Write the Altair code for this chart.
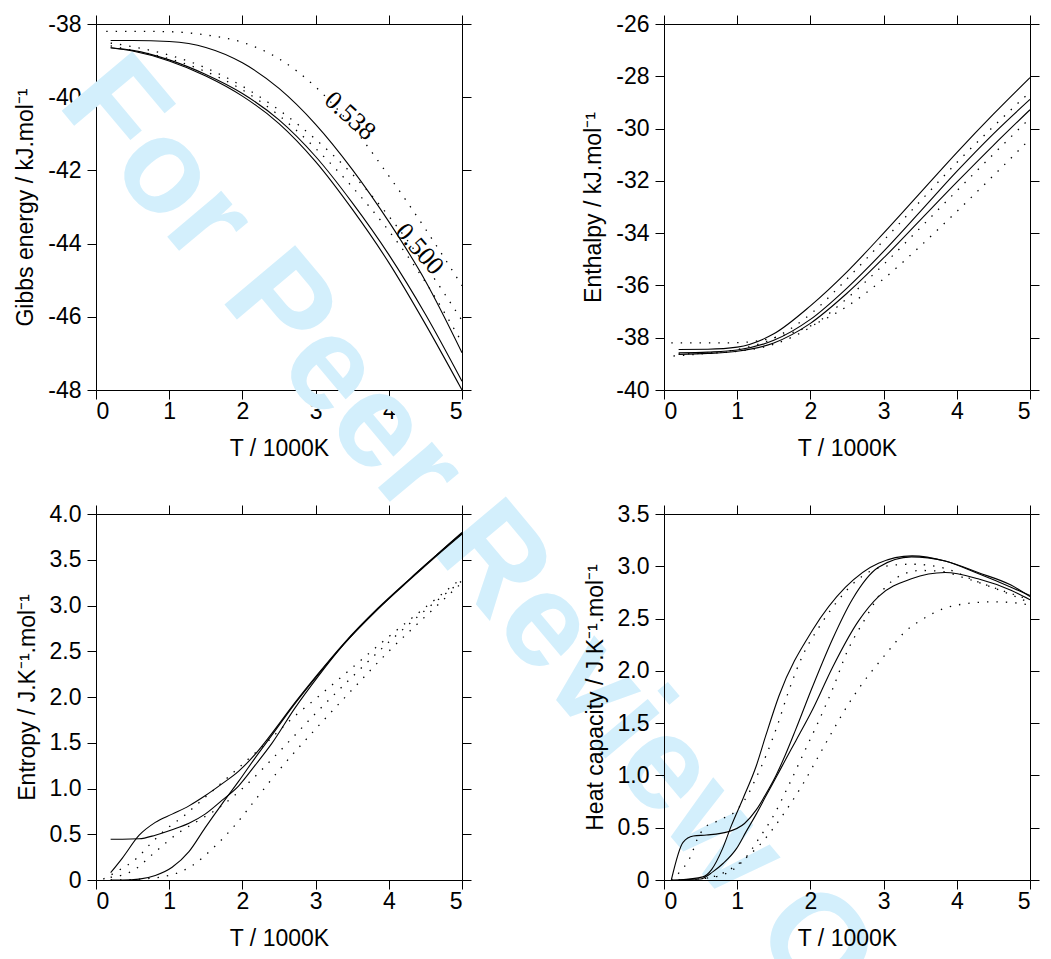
import altair as alt
import pandas as pd

# ---------------- Gibbs energy (kJ/mol) ----------------
g_T = [0.2, 0.5, 1.0, 1.5, 2.0, 2.5, 3.0, 3.5, 4.0, 4.5, 5.0]
g_s1 = [-38.45, -38.45, -38.48, -38.64, -39.06, -39.76, -40.74, -41.97, -43.4, -45.02, -46.98]
g_s2 = [-38.65, -38.72, -38.98, -39.38, -39.9, -40.62, -41.62, -42.88, -44.3, -45.93, -47.76]
g_s3 = [-38.65, -38.74, -39.01, -39.42, -39.97, -40.72, -41.76, -43.06, -44.52, -46.2, -48.0]
g_d1_T = [0.14, 0.5, 1.0, 1.5, 2.0, 2.5, 3.0, 3.5, 4.0, 4.5, 5.0]
g_d1 = [-38.2, -38.2, -38.21, -38.3, -38.5, -38.95, -39.72, -40.8, -42.15, -43.6, -45.15]
g_d2 = [-38.52, -38.62, -38.85, -39.2, -39.7, -40.35, -41.15, -42.1, -43.25, -44.6, -46.1]
g_d3 = [-38.6, -38.72, -38.95, -39.3, -39.8, -40.5, -41.4, -42.45, -43.65, -45.05, -46.7]
g_label_text = ["0.538", "0.500"]
g_label_T = [3.47, 4.42]
g_label_G = [-40.51, -44.15]

# ---------------- Enthalpy (kJ/mol) ----------------
h_T = [0.2, 0.6, 1.0, 1.5, 2.0, 2.5, 3.0, 3.5, 4.0, 4.5, 5.0]
h_s1 = [-38.45, -38.44, -38.36, -37.85, -36.78, -35.48, -34.0, -32.46, -30.92, -29.45, -28.05]
h_s2 = [-38.58, -38.55, -38.47, -38.1, -37.3, -36.1, -34.7, -33.18, -31.64, -30.2, -28.88]
h_s3 = [-38.64, -38.6, -38.52, -38.2, -37.45, -36.3, -34.95, -33.5, -32.05, -30.64, -29.28]
h_d1_T = [0.13, 0.5, 1.0, 1.5, 2.0, 2.5, 3.0, 3.5, 4.0, 4.5, 5.0]
h_d1 = [-38.7, -38.62, -38.45, -38.02, -37.1, -35.75, -34.28, -32.78, -31.3, -29.92, -28.6]
h_d2_T = [0.2, 0.5, 1.0, 1.5, 2.0, 2.5, 3.0, 3.5, 4.0, 4.5, 5.0]
h_d2 = [-38.62, -38.6, -38.52, -38.25, -37.6, -36.5, -35.2, -33.8, -32.38, -30.98, -29.6]
h_d3_T = [0.1, 0.5, 1.0, 1.5, 2.0, 2.5, 3.0, 3.5, 4.0, 4.5, 5.0]
h_d3 = [-38.2, -38.2, -38.19, -38.0, -37.55, -36.8, -35.75, -34.5, -33.17, -31.8, -30.4]

# ---------------- Entropy (J/K/mol) ----------------
s_s_T = [0.2, 0.36, 0.59, 0.81, 1.04, 1.27, 1.49, 1.72, 1.95, 2.17, 2.4, 2.71, 3.03, 3.39, 3.85, 4.3, 4.65, 5.0]
s_s1 = [0.08, 0.24, 0.49, 0.63, 0.72, 0.81, 0.92, 1.05, 1.19, 1.37, 1.6, 1.93, 2.25, 2.59, 2.97, 3.3, 3.55, 3.79]
s_s2 = [0.445, 0.445, 0.45, 0.49, 0.55, 0.62, 0.72, 0.87, 1.03, 1.25, 1.49, 1.87, 2.22, 2.58, 2.96, 3.3, 3.55, 3.8]
s_s3 = [0.0, 0.0, 0.01, 0.05, 0.14, 0.31, 0.57, 0.83, 1.08, 1.33, 1.58, 1.92, 2.24, 2.58, 2.96, 3.29, 3.54, 3.78]
s_d1_T = [0.1, 0.3, 0.56, 0.75, 0.95, 1.2, 1.4, 1.8, 2.3, 2.7, 3.0, 3.5, 4.0, 4.5, 5.0]
s_d1 = [0.01, 0.1, 0.24, 0.4, 0.55, 0.7, 0.84, 1.12, 1.48, 1.78, 1.98, 2.32, 2.66, 2.98, 3.3]
s_d2_T = [0.2, 0.5, 0.8, 1.1, 1.4, 1.7, 2.0, 2.5, 3.0, 3.5, 4.0, 4.5, 5.0]
s_d2 = [0.03, 0.1, 0.3, 0.5, 0.65, 0.8, 1.0, 1.4, 1.82, 2.22, 2.6, 2.95, 3.27]
s_d3_T = [0.2, 0.6, 1.0, 1.3, 1.6, 1.9, 2.2, 2.5, 3.0, 3.5, 4.0, 4.5, 5.0]
s_d3 = [0.0, 0.01, 0.05, 0.15, 0.35, 0.6, 0.9, 1.2, 1.65, 2.08, 2.5, 2.88, 3.25]

# ---------------- Heat capacity (J/K/mol) ----------------
c_a_T = [0.2, 0.53, 0.65, 0.8, 0.92, 1.08, 1.26, 1.39, 1.57, 2.03, 2.48, 2.93, 3.39, 3.84, 4.29, 4.74, 5.0]
c_a = [0.0, 0.03, 0.1, 0.3, 0.52, 0.78, 1.09, 1.38, 1.76, 2.39, 2.8, 3.03, 3.1, 3.05, 2.93, 2.8, 2.72]
c_b_T = [0.1, 0.26, 0.4, 0.58, 0.87, 1.1, 1.26, 1.39, 1.53, 1.66, 1.8, 2.03, 2.3, 2.57, 2.93, 3.38, 3.84, 4.29, 4.74, 5.0]
c_b = [0.0, 0.36, 0.42, 0.43, 0.46, 0.54, 0.67, 0.82, 1.0, 1.2, 1.44, 1.85, 2.3, 2.68, 2.99, 3.09, 3.05, 2.94, 2.82, 2.71]
c_c_T = [0.1, 0.5, 0.67, 0.81, 0.99, 1.12, 1.26, 1.39, 1.53, 1.66, 1.8, 2.03, 2.3, 2.66, 2.93, 3.38, 3.84, 4.29, 4.74, 5.0]
c_c = [0.0, 0.01, 0.08, 0.16, 0.3, 0.46, 0.63, 0.8, 0.98, 1.15, 1.33, 1.63, 2.03, 2.48, 2.71, 2.88, 2.94, 2.88, 2.77, 2.68]
c_d1_T = [0.1, 0.22, 0.31, 0.38, 0.43, 0.57, 0.69, 0.81, 0.93, 1.03, 1.15, 1.26, 1.4, 1.55, 1.7, 1.89, 2.12, 2.34, 2.66, 3.02, 3.38, 3.84, 4.29, 4.74, 5.0]
c_d1 = [0.0, 0.08, 0.16, 0.25, 0.35, 0.51, 0.55, 0.59, 0.63, 0.7, 0.82, 0.98, 1.2, 1.48, 1.8, 2.14, 2.42, 2.64, 2.88, 3.0, 3.02, 2.98, 2.85, 2.74, 2.68]
c_d2_T = [0.2, 0.6, 0.9, 1.1, 1.3, 1.5, 1.7, 1.9, 2.1, 2.3, 2.5, 2.75, 3.0, 3.2, 3.5, 3.8, 4.1, 4.4, 4.7, 5.0]
c_d2 = [0.0, 0.02, 0.08, 0.2, 0.4, 0.62, 0.9, 1.2, 1.5, 1.82, 2.18, 2.5, 2.78, 2.9, 2.96, 2.95, 2.89, 2.82, 2.74, 2.65]
c_d3_T = [0.3, 0.6, 0.9, 1.1, 1.3, 1.5, 1.7, 1.9, 2.1, 2.3, 2.5, 2.7, 2.9, 3.1, 3.3, 3.5, 3.8, 4.1, 4.5, 4.8, 5.0]
c_d3 = [0.0, 0.02, 0.1, 0.2, 0.33, 0.5, 0.7, 0.92, 1.17, 1.42, 1.66, 1.87, 2.05, 2.22, 2.38, 2.48, 2.59, 2.64, 2.66, 2.65, 2.63]

x_ticks = [0, 1, 2, 3, 4, 5]
watermark_text = ["For Peer Review Only"]

FONT = "Liberation Sans"
FS = 23
W = H = 366


def frame(curves):
    rows = []
    for name, style, ts, vs in curves:
        for t, v in zip(ts, vs):
            rows.append({"T": t, "v": v, "curve": name, "style": style})
    return pd.DataFrame(rows)


def panel(curves, ytitle, ydom, yticks, ylabel_expr, before=(), after=()):
    df = frame(curves)
    xs = alt.Scale(domain=[0, 5], nice=False, zero=False)
    ys = alt.Scale(domain=ydom, nice=False, zero=False)
    base = alt.Chart(df)
    solid = base.transform_filter("datum.style == 'solid'").mark_line(
        interpolate="monotone", color="black", strokeWidth=1.1
    ).encode(
        x=alt.X("T:Q", scale=xs, axis=alt.Axis(orient="bottom", values=x_ticks, title="T / 1000K",
                                               labelExpr="'' + datum.value", labelPadding=1,
                                               titlePadding=14)),
        y=alt.Y("v:Q", scale=ys, axis=alt.Axis(orient="left", values=yticks, title=ytitle,
                                               labelExpr=ylabel_expr, labelPadding=6,
                                               titlePadding=10)),
        detail="curve:N",
    )
    dotted = base.transform_filter("datum.style == 'dotted'").mark_line(
        interpolate="monotone", color="black", strokeWidth=1.3, strokeDash=[1.4, 8]
    ).encode(
        x=alt.X("T:Q", scale=xs, axis=alt.Axis(orient="top", values=x_ticks, labels=False, title=None)),
        y=alt.Y("v:Q", scale=ys, axis=alt.Axis(orient="right", values=yticks, labels=False, title=None)),
        detail="curve:N",
    )
    layers = list(before) + [solid, dotted] + list(after)
    return alt.layer(*layers).resolve_axis(x="independent", y="independent").properties(width=W, height=H)


# watermark (drawn first, behind everything)
wm = alt.Chart(pd.DataFrame({"t": watermark_text})).mark_text(
    align="left", baseline="alphabetic", angle=50, fontSize=134, font=FONT,
    fontWeight="bold", color="#d3effc"
).encode(text="t:N", x=alt.value(-40), y=alt.value(80))

lab_df = pd.DataFrame({"T": g_label_T, "v": g_label_G, "txt": g_label_text})
xs0 = alt.Scale(domain=[0, 5], nice=False, zero=False)
ys0 = alt.Scale(domain=[-48, -38], nice=False, zero=False)
lab1 = alt.Chart(lab_df.iloc[[0]]).mark_text(
    font="Liberation Serif", fontSize=26, angle=42, color="black"
).encode(x=alt.X("T:Q", scale=xs0, axis=None), y=alt.Y("v:Q", scale=ys0, axis=None), text="txt:N")
lab2 = alt.Chart(lab_df.iloc[[1]]).mark_text(
    font="Liberation Serif", fontSize=26, angle=49, color="black"
).encode(x=alt.X("T:Q", scale=xs0, axis=None), y=alt.Y("v:Q", scale=ys0, axis=None), text="txt:N")

gibbs = panel(
    [("s1", "solid", g_T, g_s1), ("s2", "solid", g_T, g_s2), ("s3", "solid", g_T, g_s3),
     ("d1", "dotted", g_d1_T, g_d1), ("d2", "dotted", g_T, g_d2), ("d3", "dotted", g_T, g_d3)],
    "Gibbs energy / kJ.mol⁻¹", [-48, -38], [-48, -46, -44, -42, -40, -38], "'' + datum.value",
    before=[wm], after=[lab1, lab2],
)

enthalpy = panel(
    [("s1", "solid", h_T, h_s1), ("s2", "solid", h_T, h_s2), ("s3", "solid", h_T, h_s3),
     ("d1", "dotted", h_d1_T, h_d1), ("d2", "dotted", h_d2_T, h_d2), ("d3", "dotted", h_d3_T, h_d3)],
    "Enthalpy / kJ.mol⁻¹", [-40, -26], [-40, -38, -36, -34, -32, -30, -28, -26], "'' + datum.value",
)

dec_expr = "datum.value == 0 ? '0' : format(datum.value, '.1f')"
entropy = panel(
    [("s1", "solid", s_s_T, s_s1), ("s2", "solid", s_s_T, s_s2), ("s3", "solid", s_s_T, s_s3),
     ("d1", "dotted", s_d1_T, s_d1), ("d2", "dotted", s_d2_T, s_d2), ("d3", "dotted", s_d3_T, s_d3)],
    "Entropy / J.K⁻¹.mol⁻¹", [0, 4], [0, 0.5, 1, 1.5, 2, 2.5, 3, 3.5, 4], dec_expr,
)

heatcap = panel(
    [("a", "solid", c_a_T, c_a), ("b", "solid", c_b_T, c_b), ("c", "solid", c_c_T, c_c),
     ("d1", "dotted", c_d1_T, c_d1), ("d2", "dotted", c_d2_T, c_d2), ("d3", "dotted", c_d3_T, c_d3)],
    "Heat capacity / J.K⁻¹.mol⁻¹", [0, 3.5], [0, 0.5, 1, 1.5, 2, 2.5, 3, 3.5], dec_expr,
)

chart = alt.concat(gibbs, enthalpy, entropy, heatcap, columns=2, bounds="flush")
chart = chart.properties(
    spacing={"row": 124, "column": 202},
    padding={"left": 6, "top": 5, "right": 0, "bottom": 0},
).configure_view(stroke=None).configure_axis(
    grid=False, domainColor="black", domainWidth=1, tickColor="black", tickWidth=1, tickSize=9,
    labelColor="black", labelFont=FONT, labelFontSize=FS,
    titleColor="black", titleFont=FONT, titleFontSize=FS, titleFontWeight="normal",
)

chart.save("out.html", embed_options={"renderer": "svg", "actions": False})
